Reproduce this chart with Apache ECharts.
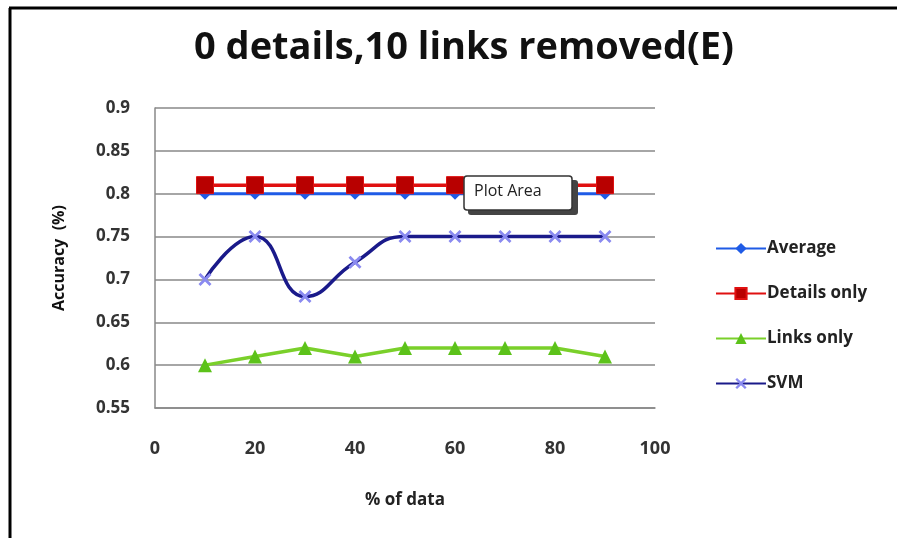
<!DOCTYPE html>
<html>
<head>
<meta charset="utf-8">
<script src="https://cdn.jsdelivr.net/npm/echarts@6/dist/echarts.min.js"></script>
<style>
html,body{margin:0;padding:0;background:#fff;}
#chart{width:897px;height:538px;}
</style>
</head>
<body>
<div id="chart"></div>
<script>
var xValues = [10, 20, 30, 40, 50, 60, 70, 80, 90];
var average = [0.80, 0.80, 0.80, 0.80, 0.80, 0.80, 0.80, 0.80, 0.80];
var detailsOnly = [0.81, 0.81, 0.81, 0.81, 0.81, 0.81, 0.81, 0.81, 0.81];
var linksOnly = [0.60, 0.61, 0.62, 0.61, 0.62, 0.62, 0.62, 0.62, 0.61];
var svm = [0.70, 0.75, 0.68, 0.72, 0.75, 0.75, 0.75, 0.75, 0.75];
var seriesNames = ['Average', 'Details only', 'Links only', 'SVM'];
var titleText = '0 details,10 links removed(E)';
var xAxisName = '% of data';
var yAxisName = 'Accuracy  (%)';
var calloutText = 'Plot Area';

function pairs(vals) {
  return xValues.map(function (x, i) { return [x, vals[i]]; });
}
var xSymbol = 'path://M0,1.5L1.5,0L5,3.5L8.5,0L10,1.5L6.5,5L10,8.5L8.5,10L5,6.5L1.5,10L0,8.5L3.5,5Z';

var chart = echarts.init(document.getElementById('chart'));
var font = '"Open Sans", "Liberation Sans", sans-serif';
chart.setOption({
  animation: false,
  backgroundColor: '#ffffff',
  title: {
    text: titleText,
    left: 459,
    textAlign: 'center',
    top: 24,
    textStyle: { fontFamily: font, fontSize: 38, fontWeight: 'bold', color: '#111' }
  },
  grid: { left: 155, right: 242, top: 108, bottom: 130 },
  legend: {
    orient: 'vertical',
    left: 710,
    top: 235,
    itemWidth: 50,
    itemHeight: 14,
    itemGap: 28,
    data: seriesNames,
    textStyle: { fontFamily: font, fontSize: 17, fontWeight: 'bold', color: '#222', padding: [0, 0, 0, -4] }
  },
  xAxis: {
    type: 'value',
    min: 0, max: 100, interval: 20,
    name: xAxisName,
    nameLocation: 'middle',
    nameGap: 84,
    nameTextStyle: { fontFamily: font, fontSize: 17, fontWeight: 'bold', color: '#222' },
    axisLine: { show: true, lineStyle: { color: '#888', width: 1.5 } },
    axisTick: { show: false },
    splitLine: { show: false },
    axisLabel: { margin: 32, fontFamily: font, fontSize: 18, fontWeight: 'bold', color: '#333' }
  },
  yAxis: {
    type: 'value',
    min: 0.55, max: 0.9, interval: 0.05,
    name: yAxisName,
    nameLocation: 'middle',
    nameGap: 88,
    nameTextStyle: { fontFamily: font, fontSize: 16, fontWeight: 'bold', color: '#111' },
    axisLine: { show: true, lineStyle: { color: '#888', width: 1.5 } },
    axisTick: { show: false },
    splitLine: { show: true, lineStyle: { color: '#888', width: 1.5 } },
    axisLabel: {
      margin: 25, fontFamily: font, fontSize: 17, fontWeight: 'bold', color: '#333',
      formatter: function (v) { return String(parseFloat(v.toFixed(2))); }
    }
  },
  series: [
    {
      name: seriesNames[0], type: 'line', data: pairs(average),
      symbol: 'diamond', symbolSize: 12,
      itemStyle: { color: '#1f5be6' },
      lineStyle: { color: '#1f5be6', width: 3 }
    },
    {
      name: seriesNames[1], type: 'line', data: pairs(detailsOnly),
      symbol: 'rect', symbolSize: 17,
      itemStyle: { color: '#b80000', borderColor: '#e01010', borderWidth: 1 },
      lineStyle: { color: '#e01010', width: 3.5 }
    },
    {
      name: seriesNames[2], type: 'line', data: pairs(linksOnly),
      symbol: 'triangle', symbolSize: 14,
      itemStyle: { color: '#5cc21a' },
      lineStyle: { color: '#7ad02a', width: 3.5 }
    },
    {
      name: seriesNames[3], type: 'line', data: pairs(svm), smooth: 0.5,
      symbol: xSymbol, symbolSize: 13,
      itemStyle: { color: '#8a8af0' },
      lineStyle: { color: '#1a1a8a', width: 3.5 }
    }
  ],
  graphic: [
    { type: 'line', shape: { x1: 9, y1: 8, x2: 897, y2: 8 }, style: { stroke: '#000', lineWidth: 3 } },
    { type: 'line', shape: { x1: 10, y1: 8, x2: 10, y2: 538 }, style: { stroke: '#000', lineWidth: 3 } },
    { type: 'rect', shape: { x: 468, y: 180, width: 110, height: 35, r: 3 }, style: { fill: '#444' }, z: 100 },
    { type: 'rect', shape: { x: 464, y: 176, width: 108, height: 34, r: 3 }, style: { fill: '#fff', stroke: '#333', lineWidth: 1.5 }, z: 101 },
    { type: 'text', left: 474, top: 183, style: { text: calloutText, fontFamily: font, fontSize: 16, fill: '#222' }, z: 102 }
  ]
});
</script>
</body>
</html>
